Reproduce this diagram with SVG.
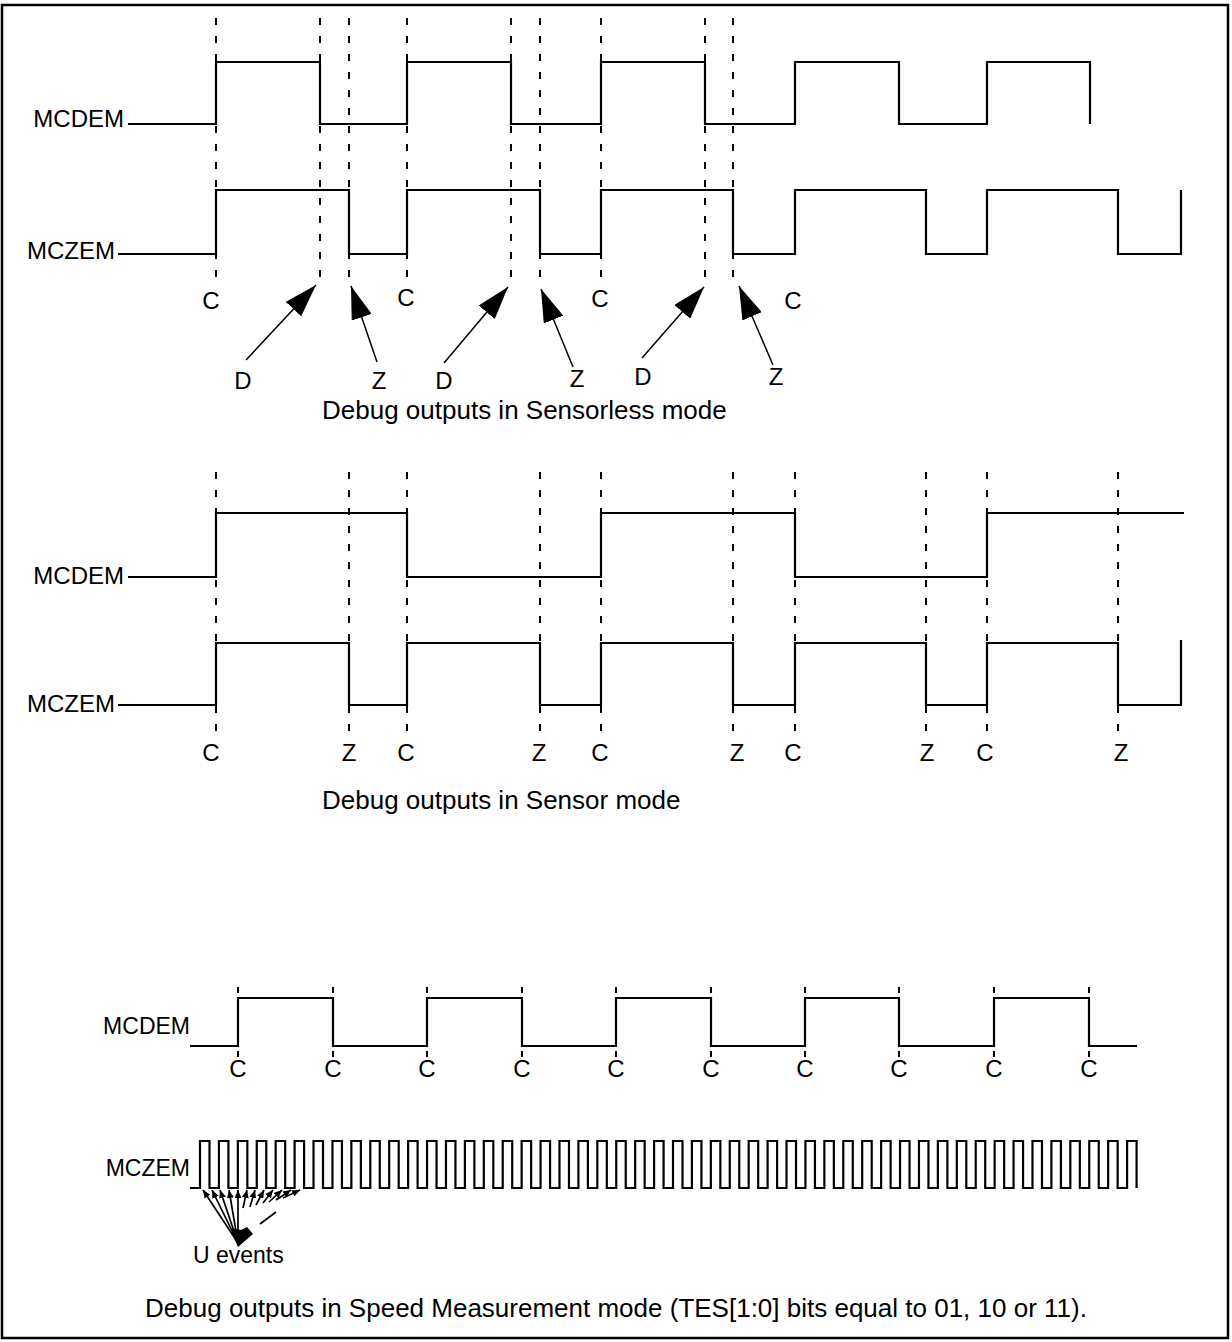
<svg xmlns="http://www.w3.org/2000/svg" width="1232" height="1342" viewBox="0 0 1232 1342">
<style>
  text { font-family: "Liberation Sans", Arial, Helvetica, sans-serif; fill: #000; }
  .lbl { font-size: 23px; }
  .sig { font-size: 24px; text-anchor: end; }
  .sig3 { font-size: 23px; text-anchor: end; }
  .ev { font-size: 24px; text-anchor: middle; }
  .cap { font-size: 26px; }
  .wave { fill: none; stroke: #000; stroke-width: 2.2; stroke-linejoin: miter; }
  .dash { fill: none; stroke: #000; stroke-width: 2; stroke-dasharray: 7 11; }
  .tick { fill: none; stroke: #000; stroke-width: 2; }
  .arr { fill: none; stroke: #000; stroke-width: 1.5; marker-end: url(#big); }
  .uarr { fill: none; stroke: #000; stroke-width: 1.7; marker-end: url(#small); }
</style>
<defs>
  <marker id="big" markerWidth="33" markerHeight="21" refX="33" refY="10.5" orient="auto" markerUnits="userSpaceOnUse">
    <path d="M0,0 L33,10.5 L0,21 z" fill="#000"/>
  </marker>
  <marker id="small" markerWidth="8" markerHeight="7" refX="8" refY="3.5" orient="auto" markerUnits="userSpaceOnUse">
    <path d="M0,0 L8,3.5 L0,7 z" fill="#000"/>
  </marker>
</defs>
<rect x="2" y="5" width="1226" height="1333" fill="#fff" stroke="#000" stroke-width="2.5"/>

<!-- ===== Section 1: Sensorless mode ===== -->
<g id="s1-grid">
  <path class="dash" d="M216,18 V287 M320,18 V287 M349,18 V287 M407,18 V287 M511,18 V287 M540,18 V287 M601,18 V287 M705,18 V287 M733,18 V287"/>
</g>
<g id="s1-mcdem">
  <text class="sig" x="124" y="127">MCDEM</text>
  <path class="wave" d="M128,124 H216 V62 H320 V124 H407 V62 H511 V124 H601 V62 H705 V124 H795 V62 H899 V124 H987 V62 H1090 V124"/>
</g>
<g id="s1-mczem">
  <text class="sig" x="115" y="259">MCZEM</text>
  <path class="wave" d="M118,254 H216 V190 H349 V254 H407 V190 H540 V254 H601 V190 H733 V254 H795 V190 H926 V254 H987 V190 H1118 V254 H1181 V190"/>
</g>
<g id="s1-labels">
  <text class="ev" x="211" y="309">C</text>
  <text class="ev" x="406" y="306">C</text>
  <text class="ev" x="600" y="307">C</text>
  <text class="ev" x="793" y="309">C</text>
  <text class="ev" x="243" y="389">D</text>
  <text class="ev" x="379" y="389">Z</text>
  <text class="ev" x="444" y="389">D</text>
  <text class="ev" x="577" y="387">Z</text>
  <text class="ev" x="643" y="385">D</text>
  <text class="ev" x="776" y="385">Z</text>
</g>
<g id="connectors">
  <line class="arr" x1="246" y1="360" x2="316" y2="285"/>
  <line class="arr" x1="377" y1="362" x2="351" y2="286"/>
  <line class="arr" x1="444" y1="363" x2="508" y2="287"/>
  <line class="arr" x1="573" y1="367" x2="541" y2="289"/>
  <line class="arr" x1="642" y1="358" x2="704" y2="287"/>
  <line class="arr" x1="773" y1="365" x2="739" y2="286"/>
  <!-- U events -->
  <line class="uarr" x1="238" y1="1243" x2="203" y2="1190"/>
  <line class="uarr" x1="238" y1="1243" x2="212" y2="1190"/>
  <line class="uarr" x1="238" y1="1243" x2="220" y2="1190"/>
  <line class="uarr" x1="238" y1="1243" x2="229" y2="1190"/>
  <line class="uarr" x1="238" y1="1243" x2="238" y2="1190"/>
  <line class="uarr" x1="243" y1="1208" x2="247" y2="1190"/>
  <line class="uarr" x1="250" y1="1207" x2="255" y2="1190"/>
  <line class="uarr" x1="256" y1="1205" x2="264" y2="1190"/>
  <line class="uarr" x1="263" y1="1203" x2="273" y2="1190"/>
  <line class="uarr" x1="269" y1="1202" x2="282" y2="1190"/>
  <line class="uarr" x1="276" y1="1200" x2="291" y2="1190"/>
  <line class="uarr" x1="283" y1="1198" x2="300" y2="1190"/>
  <line x1="260" y1="1224" x2="276" y2="1212" stroke="#000" stroke-width="1.7"/>
  <polygon points="238,1247 253,1234 247,1227 241,1230 231,1228 233,1236" fill="#000"/>
</g>
<text class="cap" x="322" y="419">Debug outputs in Sensorless mode</text>

<!-- ===== Section 2: Sensor mode ===== -->
<g id="s2-grid">
  <path class="dash" d="M216,472 V738 M349,472 V738 M407,472 V738 M540,472 V738 M601,472 V738 M733,472 V738 M795,472 V738 M926,472 V738 M987,472 V738 M1118,472 V738"/>
</g>
<g id="s2-mcdem">
  <text class="sig" x="124" y="584">MCDEM</text>
  <path class="wave" d="M128,577 H216 V513 H407 V577 H601 V513 H795 V577 H987 V513 H1184"/>
</g>
<g id="s2-mczem">
  <text class="sig" x="115" y="712">MCZEM</text>
  <path class="wave" d="M118,705 H216 V643 H349 V705 H407 V643 H540 V705 H601 V643 H733 V705 H795 V643 H926 V705 H987 V643 H1118 V705 H1181 V640"/>
</g>
<g id="s2-labels">
  <text class="ev" x="211" y="761">C</text>
  <text class="ev" x="349" y="761">Z</text>
  <text class="ev" x="406" y="761">C</text>
  <text class="ev" x="539" y="761">Z</text>
  <text class="ev" x="600" y="761">C</text>
  <text class="ev" x="737" y="761">Z</text>
  <text class="ev" x="793" y="761">C</text>
  <text class="ev" x="927" y="761">Z</text>
  <text class="ev" x="985" y="761">C</text>
  <text class="ev" x="1121" y="761">Z</text>
</g>
<text class="cap" x="322" y="809">Debug outputs in Sensor mode</text>

<!-- ===== Section 3: Speed Measurement mode ===== -->
<g id="s3-ticks">
  <path class="tick" d="M238,987 V993 M238,1051 V1057 M333,987 V993 M333,1051 V1057 M427,987 V993 M427,1051 V1057 M522,987 V993 M522,1051 V1057 M616,987 V993 M616,1051 V1057 M711,987 V993 M711,1051 V1057 M805,987 V993 M805,1051 V1057 M899,987 V993 M899,1051 V1057 M994,987 V993 M994,1051 V1057 M1089,987 V993 M1089,1051 V1057"/>
</g>
<g id="s3-mcdem">
  <text class="sig3" x="190" y="1034">MCDEM</text>
  <path class="wave" d="M190,1046 H238 V998 H333 V1046 H427 V998 H522 V1046 H616 V998 H711 V1046 H805 V998 H899 V1046 H994 V998 H1089 V1046 H1137"/>
</g>
<g id="s3-labels">
  <text class="ev" x="238" y="1077">C</text>
  <text class="ev" x="333" y="1077">C</text>
  <text class="ev" x="427" y="1077">C</text>
  <text class="ev" x="522" y="1077">C</text>
  <text class="ev" x="616" y="1077">C</text>
  <text class="ev" x="711" y="1077">C</text>
  <text class="ev" x="805" y="1077">C</text>
  <text class="ev" x="899" y="1077">C</text>
  <text class="ev" x="994" y="1077">C</text>
  <text class="ev" x="1089" y="1077">C</text>
</g>
<g id="s3-mczem">
  <text class="sig3" x="190" y="1176">MCZEM</text>
  <path class="wave" d="M190,1188 H200
   V1141 h9.5 V1188 h9.42 V1141 h9.5 V1188 h9.42 V1141 h9.5 V1188 h9.42 V1141 h9.5 V1188 h9.42 V1141 h9.5 V1188 h9.42 V1141 h9.5 V1188 h9.42 V1141 h9.5 V1188 h9.42
   V1141 h9.5 V1188 h9.42 V1141 h9.5 V1188 h9.42 V1141 h9.5 V1188 h9.42 V1141 h9.5 V1188 h9.42 V1141 h9.5 V1188 h9.42 V1141 h9.5 V1188 h9.42 V1141 h9.5 V1188 h9.42
   V1141 h9.5 V1188 h9.42 V1141 h9.5 V1188 h9.42 V1141 h9.5 V1188 h9.42 V1141 h9.5 V1188 h9.42 V1141 h9.5 V1188 h9.42 V1141 h9.5 V1188 h9.42 V1141 h9.5 V1188 h9.42
   V1141 h9.5 V1188 h9.42 V1141 h9.5 V1188 h9.42 V1141 h9.5 V1188 h9.42 V1141 h9.5 V1188 h9.42 V1141 h9.5 V1188 h9.42 V1141 h9.5 V1188 h9.42 V1141 h9.5 V1188 h9.42
   V1141 h9.5 V1188 h9.42 V1141 h9.5 V1188 h9.42 V1141 h9.5 V1188 h9.42 V1141 h9.5 V1188 h9.42 V1141 h9.5 V1188 h9.42 V1141 h9.5 V1188 h9.42 V1141 h9.5 V1188 h9.42
   V1141 h9.5 V1188 h9.42 V1141 h9.5 V1188 h9.42 V1141 h9.5 V1188 h9.42 V1141 h9.5 V1188 h9.42 V1141 h9.5 V1188 h9.42 V1141 h9.5 V1188 h9.42 V1141 h9.5 V1188 h9.42
   V1141 h9.5 V1188 h9.42 V1141 h9.5 V1188 h9.42 V1141 h9.5 V1188 h9.42 V1141 h9.5 V1188 h9.42 V1141 h9.5 V1188 h9.42 V1141 h9.5 V1188 h9.42 V1141 h9.5 V1188 h9.42
   V1141 h9.5 V1188"/>
</g>
<text class="lbl" x="193" y="1263">U events</text>
<text class="cap" x="616" y="1317" text-anchor="middle">Debug outputs in Speed Measurement mode (TES[1:0] bits equal to 01, 10 or 11).</text>
</svg>
